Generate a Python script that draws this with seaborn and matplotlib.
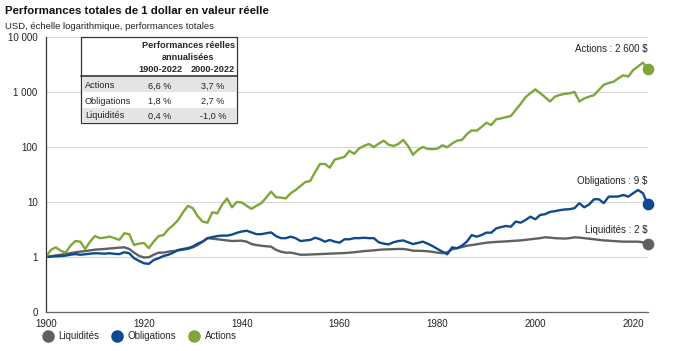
import numpy as np
import pandas as pd
import matplotlib
matplotlib.use("Agg")
import matplotlib.pyplot as plt
from matplotlib.lines import Line2D
from matplotlib.patches import Rectangle
import seaborn as sns

# Year-end positions, 1900 = start value of 1 $
years = list(range(1900, 2024))

actions = [
    1.0, 1.35, 1.5, 1.3, 1.2, 1.6, 1.95, 1.9, 1.4, 1.9,
    2.4, 2.2, 2.25, 2.35, 2.2, 2.05, 2.7, 2.6, 1.65, 1.75,
    1.8, 1.45, 1.9, 2.4, 2.5, 3.2, 3.8, 4.7, 6.5, 8.5,
    7.7, 5.5, 4.4, 4.2, 6.5, 6.2, 9.0, 11.6, 8.0, 10.0,
    9.8, 8.5, 7.5, 8.5, 9.5, 12.0, 15.4, 12.2, 12.0, 11.6,
    14.4, 16.5, 19.5, 23.0, 24.0, 35, 49, 49, 42, 59,
    62, 66, 85, 75, 94, 105, 113, 99, 115, 130,
    110, 104, 113, 134, 104, 72, 88, 100, 92, 91,
    93, 107, 99, 115, 130, 134, 170, 200, 197, 230,
    275, 250, 318, 330, 347, 365, 470, 605, 800, 950,
    1110, 950, 800, 670, 820, 880, 920, 940, 1000, 670,
    760, 820, 870, 1090, 1350, 1450, 1530, 1770, 2000, 1900,
    2500, 2900, 3400, 2600,
]

obligations = [
    1.0, 1.02, 1.03, 1.04, 1.06, 1.1, 1.13, 1.1, 1.12, 1.15,
    1.17, 1.16, 1.15, 1.17, 1.14, 1.13, 1.22, 1.17, 0.95, 0.85,
    0.77, 0.75, 0.88, 0.95, 1.04, 1.1, 1.2, 1.34, 1.4, 1.45,
    1.55, 1.75, 1.9, 2.2, 2.3, 2.4, 2.45, 2.45, 2.55, 2.75,
    2.9, 3.0, 2.8, 2.6, 2.6, 2.7, 2.8, 2.4, 2.2, 2.2,
    2.34, 2.2, 1.95, 2.0, 2.04, 2.24, 2.1, 1.9, 2.04, 1.9,
    1.82, 2.1, 2.1, 2.2, 2.2, 2.24, 2.2, 2.2, 1.85, 1.75,
    1.7, 1.85, 1.95, 2.0, 1.85, 1.72, 1.8, 1.9, 1.75, 1.58,
    1.4, 1.25, 1.12, 1.5, 1.44, 1.6, 1.9, 2.5, 2.34, 2.5,
    2.77, 2.77, 3.3, 3.5, 3.66, 3.55, 4.4, 4.2, 4.7, 5.4,
    4.85, 5.8, 6.0, 6.6, 6.8, 7.1, 7.3, 7.4, 7.7, 9.5,
    8.0, 9.0, 11.2, 11.2, 9.5, 12.5, 12.5, 12.6, 13.4, 12.5,
    14.4, 16.5, 14.4, 9.0,
]

liquidites = [
    1.0, 1.03, 1.07, 1.1, 1.13, 1.18, 1.22, 1.25, 1.28, 1.32,
    1.36, 1.38, 1.4, 1.43, 1.45, 1.48, 1.5, 1.4, 1.2, 1.05,
    0.98, 0.99, 1.1, 1.2, 1.2, 1.25, 1.28, 1.32, 1.36, 1.4,
    1.5, 1.65, 1.9, 2.2, 2.15, 2.1, 2.05, 2.0, 1.95, 1.97,
    1.98, 1.9, 1.72, 1.65, 1.6, 1.57, 1.54, 1.35, 1.25, 1.2,
    1.2, 1.15, 1.1, 1.1, 1.11, 1.12, 1.13, 1.14, 1.15, 1.16,
    1.17, 1.18, 1.2, 1.22, 1.25, 1.28, 1.3, 1.32, 1.35, 1.37,
    1.38, 1.39, 1.4, 1.4, 1.36, 1.3, 1.3, 1.29, 1.27, 1.24,
    1.2, 1.17, 1.22, 1.38, 1.45, 1.52, 1.6, 1.65, 1.7, 1.76,
    1.82, 1.85, 1.88, 1.9, 1.92, 1.95, 1.98, 2.0, 2.05, 2.1,
    2.15, 2.2, 2.28, 2.25, 2.2, 2.18, 2.16, 2.2, 2.28, 2.25,
    2.2, 2.15, 2.1, 2.05, 2.0, 1.98, 1.95, 1.92, 1.9, 1.9,
    1.9, 1.9, 1.85, 1.75,
]

series_names = ["Liquidités", "Obligations", "Actions"]
end_labels = ["Liquidités : 2 $", "Obligations : 9 $", "Actions : 2 600 $"]
colors = {"Liquidités": "#5f6062", "Obligations": "#0d4a8f", "Actions": "#7ea63a"}

# Table of annualised real returns
table_periods = ["1900-2022", "2000-2022"]
table_rows = ["Actions", "Obligations", "Liquidités"]
table_1900 = ["6,6 %", "1,8 %", "0,4 %"]
table_2000 = ["3,7 %", "2,7 %", "-1,0 %"]

df = pd.DataFrame({
    "annee": years * 3,
    "valeur": liquidites + obligations + actions,
    "serie": ["Liquidités"] * len(years) + ["Obligations"] * len(years) + ["Actions"] * len(years),
})

sns.set_style("white")
plt.rcParams["font.family"] = ["Liberation Sans", "DejaVu Sans"]

fig = plt.figure(figsize=(6.87, 3.51), dpi=100)
ax = fig.add_axes([0.067, 0.111, 0.876, 0.784])

sns.lineplot(data=df, x="annee", y="valeur", hue="serie", hue_order=series_names,
             palette=colors, linewidth=1.7, legend=False, ax=ax)

# End dots and labels
label_offsets = {"Liquidités": 6, "Obligations": 13, "Actions": 11}
for name, lab in zip(series_names, end_labels):
    sub = df[df["serie"] == name]
    x_end = sub["annee"].iloc[-1]
    y_end = sub["valeur"].iloc[-1]
    ax.scatter([x_end], [y_end], s=55, color=colors[name], zorder=5, clip_on=False)
    ax.annotate(lab, (x_end, y_end), xytext=(0, label_offsets[name]), textcoords="offset points",
                ha="right", va="bottom", fontsize=7, color="#222222")

ax.set_yscale("log")
ax.set_ylim(0.1, 10000)
ax.set_yticks([0.1, 1, 10, 100, 1000, 10000])
ax.set_yticklabels(["0", "1", "10", "100", "1 000", "10 000"])
ax.minorticks_off()
ax.set_xlim(1900, 2023)
ax.set_xticks(range(1900, 2021, 20))
ax.set_xlabel("")
ax.set_ylabel("")
ax.grid(axis="y", color="#d6d6d6", linewidth=0.8)
ax.tick_params(axis="both", labelsize=7, colors="#222222")
ax.tick_params(axis="y", length=0, pad=6)
ax.tick_params(axis="x", length=3, width=0.8, color="#555555", pad=2)
for side in ["top", "right"]:
    ax.spines[side].set_visible(False)
ax.spines["left"].set_color("#333333")
ax.spines["left"].set_linewidth(0.9)
ax.spines["bottom"].set_color("#666666")
ax.spines["bottom"].set_linewidth(0.9)

# Title and subtitle
fig.text(0.008, 0.968, "Performances totales de 1 dollar en valeur réelle", fontsize=8.2,
         fontweight="bold", ha="left", va="center", color="#111111")
fig.text(0.008, 0.925, "USD, échelle logarithmique, performances totales", fontsize=6.8,
         ha="left", va="center", color="#222222")

# Table in pixel coordinates (converted to figure fractions)
W, H = 687.0, 351.0
def fx(px):
    return px / W
def fy(py):
    return 1 - py / H

x0, x1 = 81, 237
fig.patches.append(Rectangle((fx(x0), fy(123)), fx(x1) - fx(x0), fy(37) - fy(123),
                             transform=fig.transFigure, facecolor="white", edgecolor="#333333",
                             linewidth=0.9, zorder=3))
for i, ytop in [(0, 77), (2, 108)]:
    fig.patches.append(Rectangle((fx(x0 + 1), fy(ytop + 15)), fx(x1 - 1) - fx(x0 + 1), fy(ytop) - fy(ytop + 15),
                                 transform=fig.transFigure, facecolor="#e4e4e4", edgecolor="none",
                                 zorder=4))
fig.add_artist(Line2D([fx(x0), fx(x1)], [fy(76), fy(76)], transform=fig.transFigure,
                      color="#333333", linewidth=1.2, zorder=5))

fig.text(fx(188), fy(45), "Performances réelles", fontsize=6.6, fontweight="bold",
         ha="center", va="center", zorder=6)
fig.text(fx(188), fy(57), "annualisées", fontsize=6.6, fontweight="bold",
         ha="center", va="center", zorder=6)
col_x = [160, 213]
for cx, per in zip(col_x, table_periods):
    fig.text(fx(cx), fy(69), per, fontsize=6.6, fontweight="bold", ha="center", va="center", zorder=6)
for i, row in enumerate(table_rows):
    ry = 86 + i * 15
    fig.text(fx(85), fy(ry), row, fontsize=6.6, ha="left", va="center", zorder=6, color="#222222")
    fig.text(fx(col_x[0]), fy(ry), table_1900[i], fontsize=6.6, ha="center", va="center", zorder=6, color="#222222")
    fig.text(fx(col_x[1]), fy(ry), table_2000[i], fontsize=6.6, ha="center", va="center", zorder=6, color="#222222")

# Legend
handles = [Line2D([0], [0], marker="o", linestyle="none", markersize=8,
                  markerfacecolor=colors[n], markeredgecolor=colors[n]) for n in series_names]
fig.legend(handles, series_names, loc="center left", bbox_to_anchor=(0.05, 0.043), ncol=3,
           frameon=False, fontsize=7, handletextpad=0.1, columnspacing=0.8, borderaxespad=0)

fig.savefig("out.png", dpi=100)
